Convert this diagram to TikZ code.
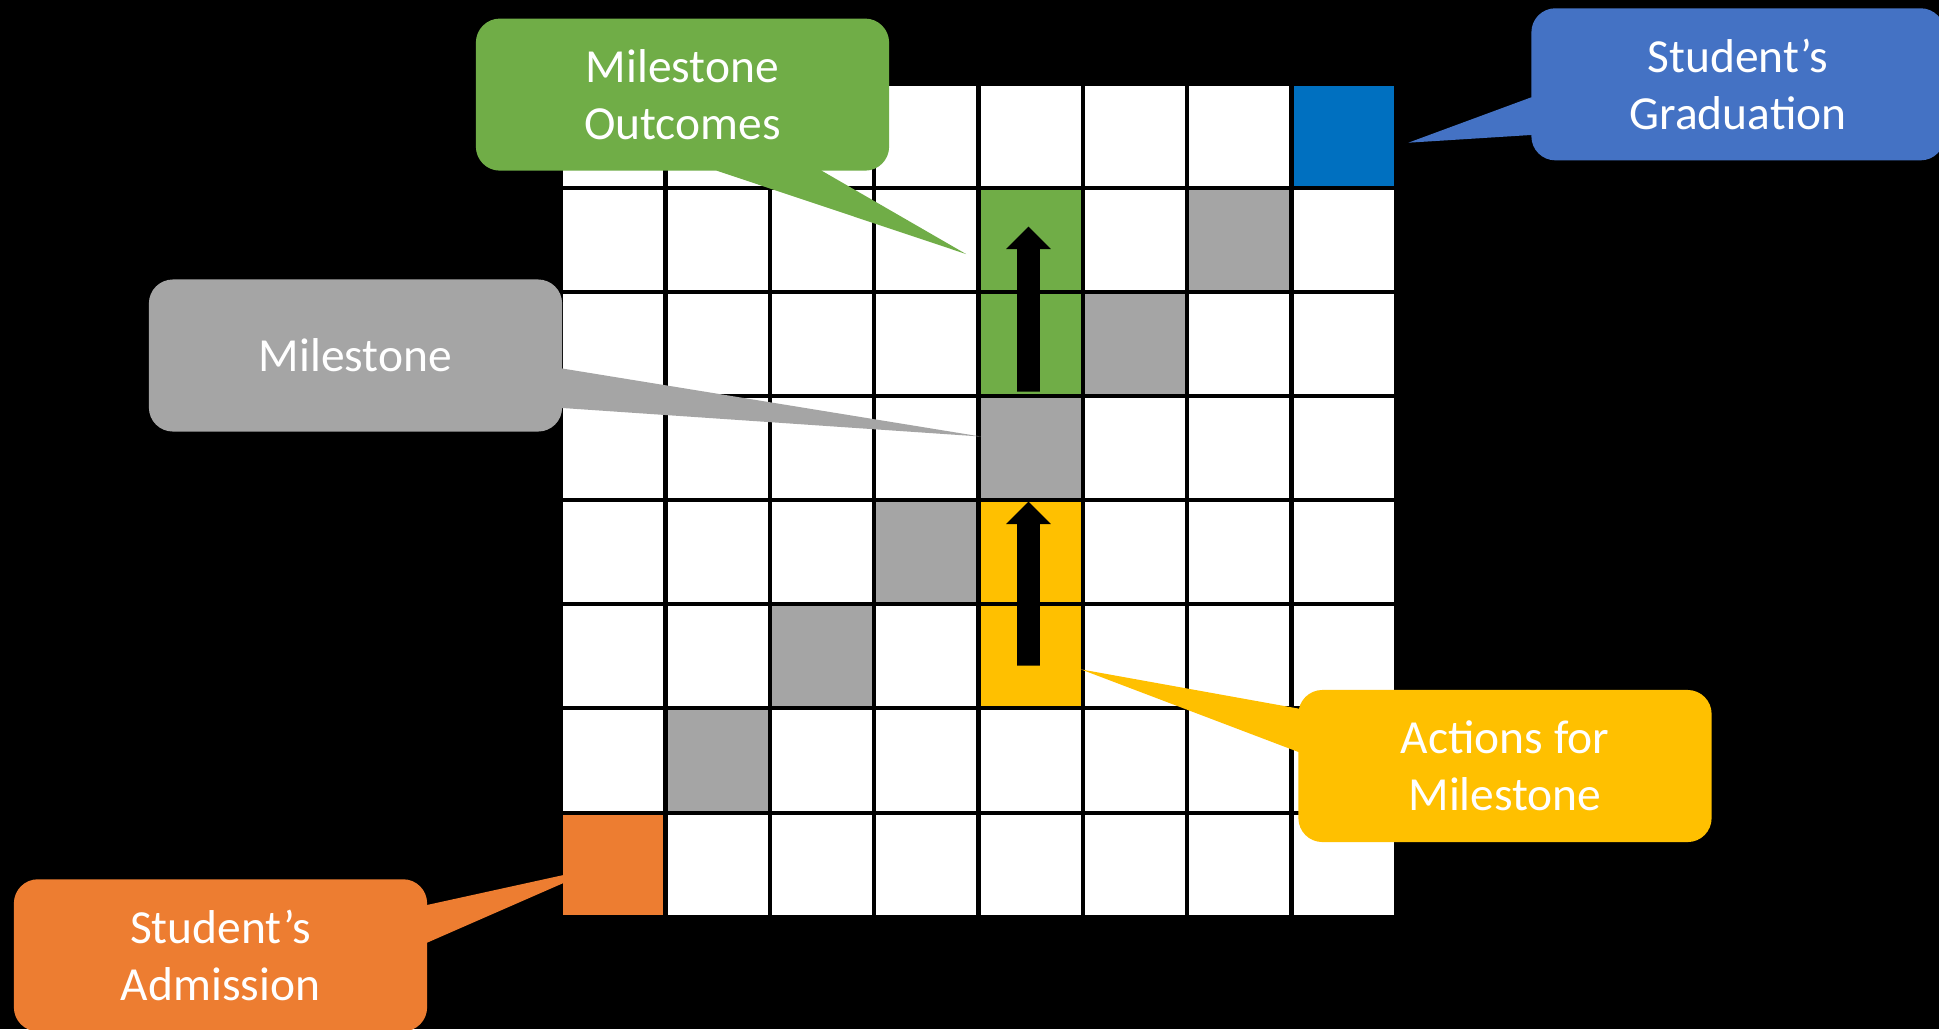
\documentclass[tikz,border=0pt]{standalone}
\usepackage{fontspec}
\setmainfont{Carlito}
\usetikzlibrary{calc}
\definecolor{cgreen}{HTML}{70AD47}
\definecolor{cblue}{HTML}{0070C0}
\definecolor{cbluebox}{HTML}{4472C4}
\definecolor{cgray}{HTML}{A5A5A5}
\definecolor{corange}{HTML}{ED7D31}
\definecolor{cyellow}{HTML}{FFC000}
\tikzset{
  cell/.style={rectangle, fill=white, minimum size=1cm, inner sep=0pt, outer sep=0pt},
  callout/.style={rectangle, rounded corners=0.24cm, minimum width=4.13cm, minimum height=1.52cm,
    inner sep=0pt, outer sep=0pt, align=center, text=white, font=\fontsize{13.5}{16.2}\selectfont},
  cellcol-7-0/.style={fill=cblue},
  cellcol-0-7/.style={fill=corange},
  cellcol-1-6/.style={fill=cgray},
  cellcol-2-5/.style={fill=cgray},
  cellcol-3-4/.style={fill=cgray},
  cellcol-4-3/.style={fill=cgray},
  cellcol-5-2/.style={fill=cgray},
  cellcol-6-1/.style={fill=cgray},
  cellcol-4-1/.style={fill=cgreen},
  cellcol-4-2/.style={fill=cgreen},
  cellcol-4-4/.style={fill=cyellow},
  cellcol-4-5/.style={fill=cyellow},
}
\begin{document}
\begin{tikzpicture}[x=0.01cm,y=-0.01cm]
\fill[black] (0,0) rectangle (1939,1029);
\useasboundingbox (0,0) rectangle (1939,1029);
\clip (0,0) rectangle (1939,1029);
% grid of cells
\foreach \i in {0,...,7}{
  \foreach \j in {0,...,7}{
    \node[cell, cellcol-\i-\j/.try] (c\i\j) at ({613.3+104.35*\i},{135.9+104.1*\j}) {};
  }
}
% block arrows
\coordinate (gtip) at (1028.5,226.7);
\fill[black] (gtip) -- ++(22.4,22.3) -- ++(-11,0) -- (1039.8,391.7) -- (1017.2,391.7)
  -- (1017.2,249) -- (1006.1,249) -- cycle;
\coordinate (ytip) at (1028.5,501.7);
\fill[black] (ytip) -- ++(22.4,22.3) -- ++(-11,0) -- (1039.8,665.7) -- (1017.2,665.7)
  -- (1017.2,524) -- (1006.1,524) -- cycle;
% callouts
\node[callout, fill=cgreen] (outc) at (682.5,94.6) {Milestone\\Outcomes};
\coordinate (outc-tip) at (966,254);
\fill[cgreen] (outc-tip) -- ($(outc.south west)+(240.7,0)$) -- ($(outc.south west)+(240.7,-10)$)
  -- ($(outc.south west)+(345.7,-10)$) -- ($(outc.south west)+(345.7,0)$) -- cycle;

\node[callout, fill=cbluebox] (grad) at (1738,84.3) {Student’s\\Graduation};
\coordinate (grad-tip) at (1408.3,142.7);
\fill[cbluebox] (grad-tip) -- ($(grad.north west)+(0,89)$) -- ($(grad.north west)+(10,89)$)
  -- ($(grad.north west)+(10,126.7)$) -- ($(grad.north west)+(0,126.7)$) -- cycle;

\node[callout, fill=cgray] (mile) at (355.5,355.5) {Milestone};
\coordinate (mile-tip) at (980.7,436.5);
\fill[cgray] (mile-tip) -- ($(mile.north east)+(0,89)$) -- ($(mile.north east)+(-10,89)$)
  -- ($(mile.north east)+(-10,128.5)$) -- ($(mile.north east)+(0,128.5)$) -- cycle;

\node[callout, fill=cyellow] (act) at (1505,766) {Actions for\\Milestone};
\coordinate (act-tip) at (1080.7,669.3);
\fill[cyellow] (act-tip) -- ($(act.north west)+(0,18.6)$) -- ($(act.north west)+(10,18.6)$)
  -- ($(act.north west)+(10,62)$) -- ($(act.north west)+(0,62)$) -- cycle;

\node[callout, fill=corange] (adm) at (220.5,955.3) {Student’s\\Admission};
\coordinate (adm-tip) at (600,867);
\fill[corange] (adm-tip) -- ($(adm.north east)+(0,25.7)$) -- ($(adm.north east)+(-10,25.7)$)
  -- ($(adm.north east)+(-10,63.4)$) -- ($(adm.north east)+(0,63.4)$) -- cycle;
\end{tikzpicture}
\end{document}
